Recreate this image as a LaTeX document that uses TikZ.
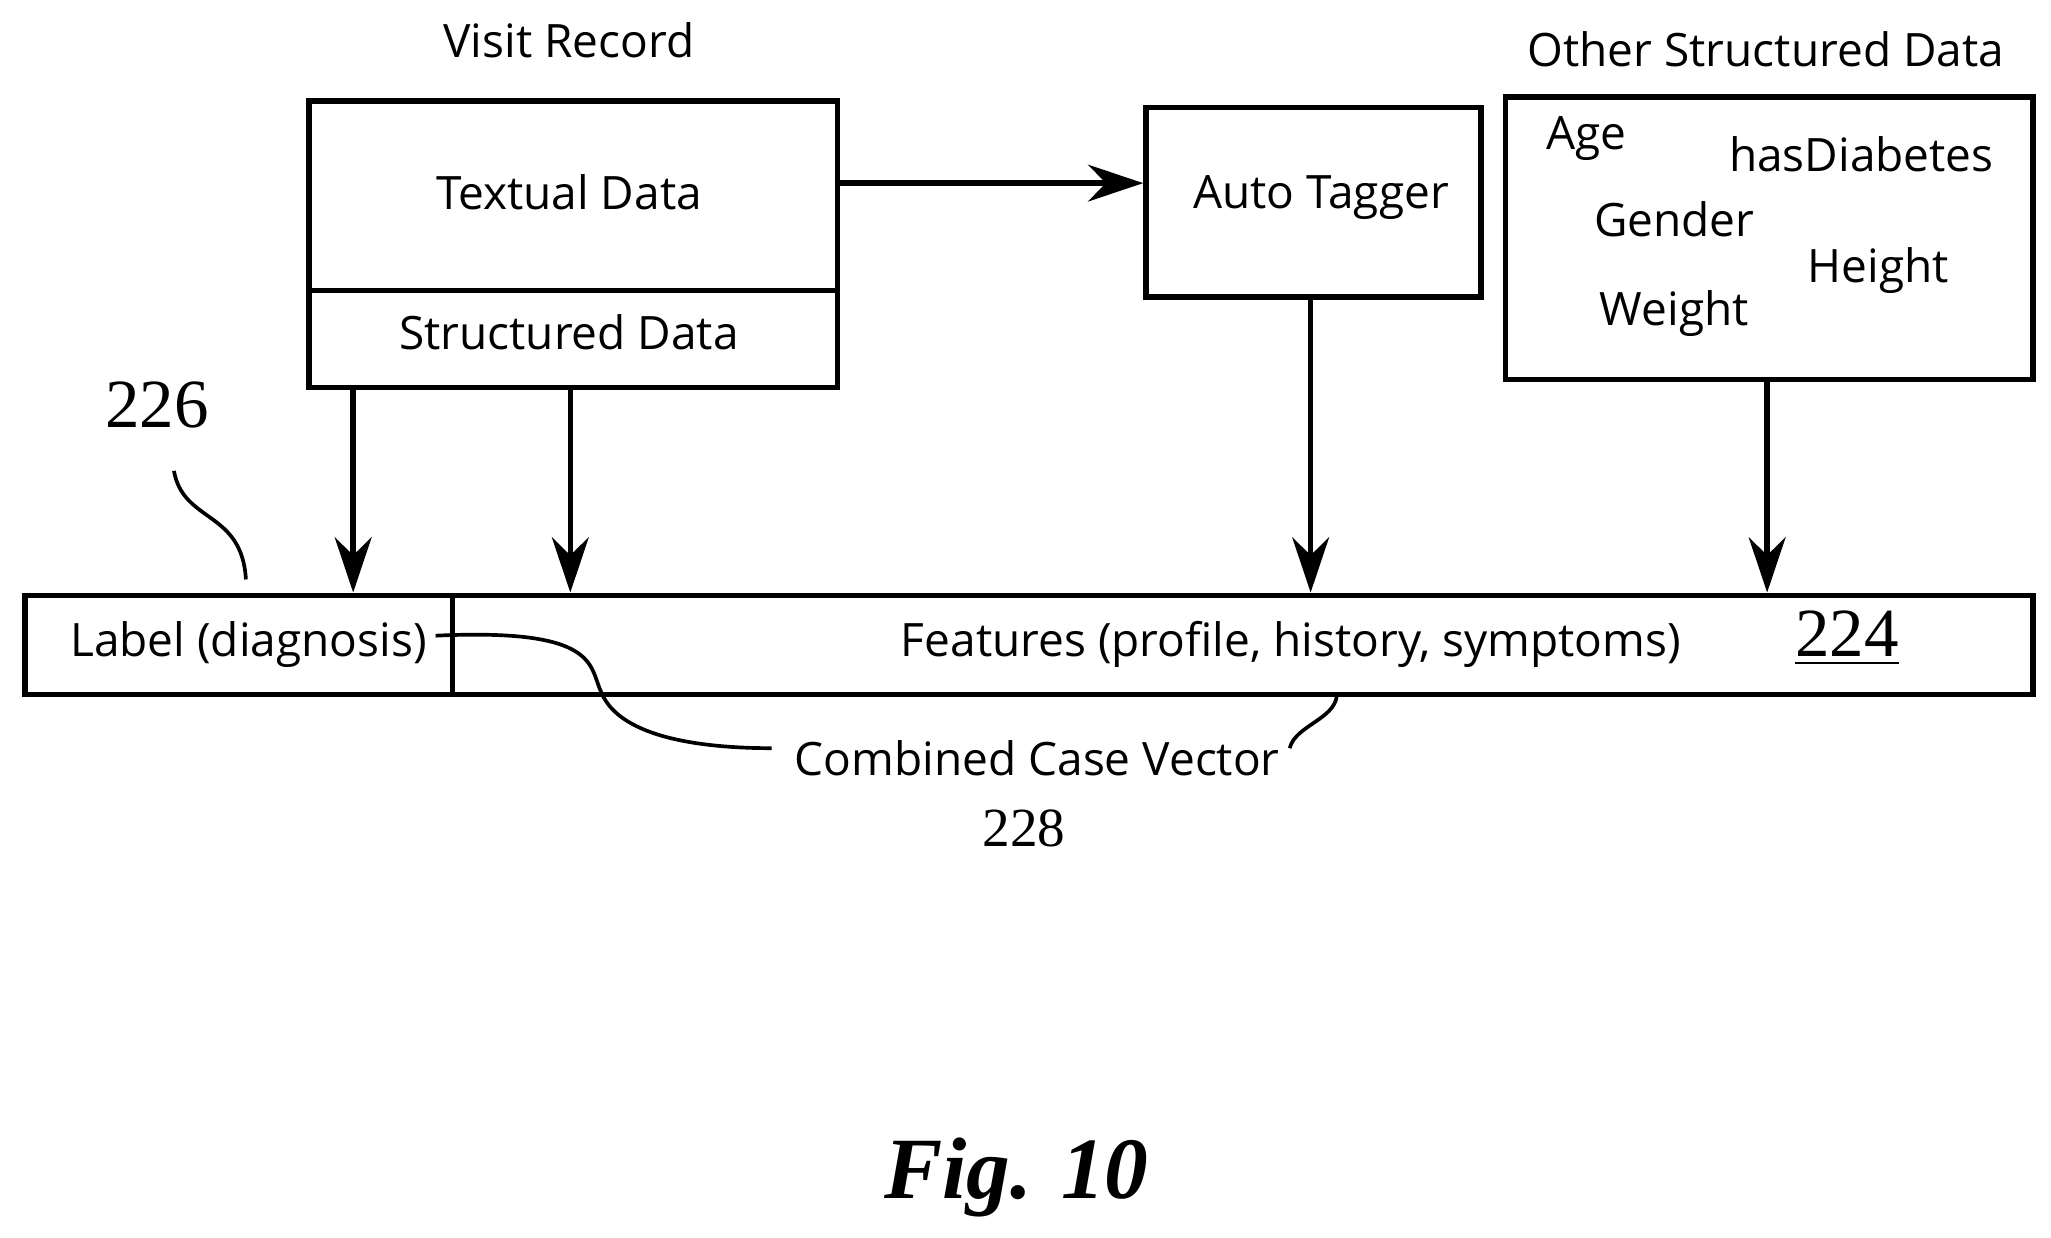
\documentclass[tikz,border=0pt]{standalone}
\usepackage{fontspec}
\setmainfont{Open Sans}
\newfontfamily\numfont{Liberation Serif}
\usetikzlibrary{arrows.meta}
\begin{document}
\begin{tikzpicture}[x=0.01cm,y=-0.01cm,
  box/.style={draw,line width=1.2pt},
  arr/.style={-{Stealth[length=12pt,width=8pt]},line width=1.2pt},
  txt/.style={font=\fontsize{10}{12}\selectfont},
  num/.style={font=\fontsize{15}{17}\selectfont\numfont},
  lead/.style={line width=0.8pt}]
\useasboundingbox (0,0) rectangle (1568,946);
\node[box,minimum width=404*0.01cm,minimum height=145*0.01cm,anchor=north west] (text) at (234,75) {};
\node[txt] at (435,147) {Textual Data};
\node[box,minimum width=404*0.01cm,minimum height=74*0.01cm,anchor=north west] (struct) at (234,220) {};
\node[txt] at (435,254) {Structured Data};
\node[txt] at (435,31) (vr) {Visit Record};
\node[box,minimum width=256*0.01cm,minimum height=145*0.01cm,anchor=north west] (tag) at (874,80) {};
\node[txt] at (1010,151) {Auto Tagger};
\node[box,minimum width=403*0.01cm,minimum height=216*0.01cm,anchor=north west] (other) at (1149,72) {};
\node[txt] at (1350,38) {Other Structured Data};
\node[txt] at (1213,106) {Age};
\node[txt] at (1423,118) {hasDiabetes};
\node[txt] at (1280,168) {Gender};
\node[txt] at (1436,207) {Height};
\node[txt] at (1280,240) {Weight};
\node[box,minimum width=327*0.01cm,minimum height=76*0.01cm,anchor=north west] (lab) at (17,453) {};
\node[box,minimum width=1208*0.01cm,minimum height=76*0.01cm,anchor=north west] (feat) at (344,453) {};
\node[txt] at (190,493) {Label (diagnosis)};
\node[txt] at (987,493) {Features (profile, history, symptoms)};
\node[num] at (1412,488) {\underline{224}};
\node[num] at (120,310) (n226) {226};
\node[txt] at (793,580) (ccv) {Combined Case Vector};
\node[font=\fontsize{12}{14}\selectfont\numfont] at (783,633) {228};
\node[font=\fontsize{19}{22}\selectfont\numfont\bfseries\itshape] at (777,900) {Fig. 10};
\coordinate (a1) at (270,453); \coordinate (a2) at (436,453);
\coordinate (a3) at (1002,453); \coordinate (a4) at (1351,453);
\draw[arr] (270,294) -- (a1);
\draw[arr] (436,294) -- (a2);
\draw[arr] (1002,225) -- (a3);
\draw[arr] (1351,288) -- (a4);
\draw[arr] (638,140) -- (874,140);
\draw[lead] (133,360) .. controls (140,400) and (185,390) .. (188,443);
\draw[lead] (333,486) .. controls (460,480) and (450,510) .. (460,530) .. controls (475,565) and (540,572) .. (590,572);
\draw[lead] (986,572) .. controls (990,555) and (1020,550) .. (1022,532);
\end{tikzpicture}
\end{document}
